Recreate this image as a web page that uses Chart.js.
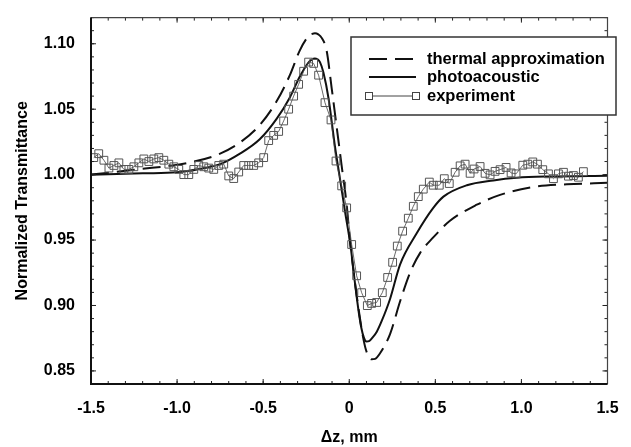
<!DOCTYPE html>
<html>
<head>
<meta charset="utf-8">
<script src="https://cdn.jsdelivr.net/npm/chart.js@4.4.1/dist/chart.umd.min.js"></script>
<style>
  html, body { margin: 0; padding: 0; background: #ffffff; }
  #wrap { width: 631px; height: 447px; }
</style>
</head>
<body>
<div id="wrap"><canvas id="c" width="631" height="447"></canvas></div>
<script>
// ---------- DATA ----------
const seriesNames = ['thermal approximation', 'photoacoustic', 'experiment'];

const xThermal = [-1.5, -1.228, -0.938, -0.75, -0.635, -0.519, -0.422, -0.345, -0.287, -0.238, -0.215, -0.199, -0.18, -0.16, -0.131, -0.102, -0.073, -0.044, -0.015, 0.004, 0.033, 0.062, 0.08, 0.096, 0.113, 0.13, 0.15, 0.178, 0.237, 0.295, 0.353, 0.411, 0.488, 0.585, 0.741, 0.876, 1.07, 1.264, 1.5];
const yThermal = [1.000, 1.004, 1.009, 1.016, 1.0245, 1.038, 1.056, 1.076, 1.095, 1.1056, 1.1075, 1.108, 1.1072, 1.1045, 1.0945, 1.066, 1.0364, 1.0067, 0.977, 0.9498, 0.9177, 0.8905, 0.876, 0.8665, 0.861, 0.8589, 0.8592, 0.8633, 0.8781, 0.903, 0.925, 0.94, 0.952, 0.9647, 0.977, 0.9845, 0.9906, 0.9926, 0.9937];

const xPhoto = [-1.5, -1.2, -1.0, -0.87, -0.75, -0.635, -0.52, -0.42, -0.345, -0.287, -0.238, -0.218, -0.2, -0.185, -0.17, -0.15, -0.12, -0.083, -0.054, -0.025, 0.008, 0.037, 0.055, 0.07, 0.085, 0.1, 0.115, 0.135, 0.16, 0.188, 0.237, 0.295, 0.39, 0.488, 0.547, 0.683, 0.837, 0.973, 1.167, 1.5];
const yPhoto = [1.000, 1.001, 1.0018, 1.0043, 1.008, 1.016, 1.027, 1.043, 1.059, 1.075, 1.0855, 1.0879, 1.0888, 1.0882, 1.086, 1.078, 1.058, 1.0216, 0.997, 0.9721, 0.945, 0.913, 0.895, 0.883, 0.8755, 0.8725, 0.8728, 0.8755, 0.880, 0.888, 0.905, 0.9313, 0.9548, 0.9746, 0.9832, 0.9919, 0.9956, 0.9976, 0.9986, 0.9992];

const xExp = [-1.484, -1.455, -1.425, -1.396, -1.367, -1.338, -1.309, -1.28, -1.251, -1.222, -1.193, -1.164, -1.135, -1.106, -1.077, -1.048, -1.019, -0.99, -0.961, -0.932, -0.903, -0.874, -0.845, -0.816, -0.787, -0.758, -0.729, -0.7, -0.671, -0.642, -0.613, -0.584, -0.555, -0.526, -0.497, -0.468, -0.439, -0.41, -0.381, -0.352, -0.323, -0.294, -0.265, -0.236, -0.207, -0.178, -0.141, -0.106, -0.077, -0.044, -0.015, 0.014, 0.043, 0.072, 0.105, 0.13, 0.159, 0.192, 0.223, 0.252, 0.279, 0.31, 0.343, 0.372, 0.401, 0.43, 0.465, 0.488, 0.523, 0.552, 0.581, 0.615, 0.644, 0.673, 0.702, 0.725, 0.76, 0.789, 0.818, 0.847, 0.876, 0.911, 0.94, 0.969, 1.008, 1.037, 1.066, 1.093, 1.124, 1.157, 1.186, 1.215, 1.244, 1.273, 1.302, 1.331, 1.36];
const yExp = [1.013, 1.016, 1.011, 1.005, 1.007, 1.009, 1.004, 1.004, 1.006, 1.009, 1.012, 1.010, 1.012, 1.013, 1.011, 1.008, 1.006, 1.004, 1.000, 1.000, 1.004, 1.007, 1.006, 1.005, 1.004, 1.007, 1.008, 0.999, 0.997, 1.002, 1.007, 1.007, 1.007, 1.009, 1.013, 1.026, 1.030, 1.033, 1.041, 1.050, 1.060, 1.069, 1.079, 1.086, 1.085, 1.076, 1.055, 1.0418, 1.0104, 0.9914, 0.9746, 0.9466, 0.9227, 0.9098, 0.8999, 0.9016, 0.9023, 0.9098, 0.9214, 0.933, 0.9454, 0.9568, 0.9667, 0.9758, 0.9832, 0.9889, 0.9943, 0.9919, 0.9919, 0.9969, 0.9932, 1.0018, 1.0067, 1.008, 1.001, 1.0043, 1.0062, 1.001, 0.9998, 1.0025, 1.0038, 1.0055, 1.0013, 1.0006, 1.0072, 1.008, 1.0097, 1.008, 1.0038, 1.0006, 0.9969, 1.0006, 1.0018, 0.9988, 0.9993, 0.998, 1.0023];

const xTickValues = [-1.5, -1.0, -0.5, 0, 0.5, 1.0, 1.5];
const xTickLabels = ['-1.5', '-1.0', '-0.5', '0', '0.5', '1.0', '1.5'];
const yTickValues = [0.85, 0.90, 0.95, 1.00, 1.05, 1.10];
const yTickLabels = ['0.85', '0.90', '0.95', '1.00', '1.05', '1.10'];
const xRange = [-1.5, 1.5];
const yRange = [0.84, 1.12];
const xMinorStep = 0.1;
const yMinorStep = 0.01;
const xTitle = '\u0394z, mm';
const yTitle = 'Normalized Transmittance';

// ---------- CHART ----------
const FONT = "'Liberation Sans', Arial, Helvetica, sans-serif";
const toPts = (xs, ys) => xs.map((x, i) => ({x: x, y: ys[i]}));

const frameAndTicks = {
  id: 'frameAndTicks',
  afterDatasetsDraw(chart) {
    const {ctx, chartArea: a, scales: {x, y}} = chart;
    ctx.save();
    ctx.strokeStyle = '#222';
    const drawX = (v, len) => {
      const px = x.getPixelForValue(v);
      ctx.beginPath();
      ctx.moveTo(px, a.bottom); ctx.lineTo(px, a.bottom - len);
      ctx.moveTo(px, a.top); ctx.lineTo(px, a.top + len);
      ctx.stroke();
    };
    const drawY = (v, len) => {
      const py = y.getPixelForValue(v);
      ctx.beginPath();
      ctx.moveTo(a.left, py); ctx.lineTo(a.left + len, py);
      ctx.moveTo(a.right, py); ctx.lineTo(a.right - len, py);
      ctx.stroke();
    };
    ctx.lineWidth = 1;
    const nx = Math.round((xRange[1] - xRange[0]) / xMinorStep);
    for (let i = 0; i <= nx; i++) drawX(xRange[0] + i * xMinorStep, 3);
    const ny = Math.round((yRange[1] - yRange[0]) / yMinorStep);
    for (let i = 0; i <= ny; i++) drawY(yRange[0] + i * yMinorStep, 3);
    xTickValues.forEach(v => drawX(v, 5));
    yTickValues.forEach(v => drawY(v, 5));
    ctx.lineWidth = 1.2;
    ctx.strokeStyle = '#444';
    ctx.beginPath();
    ctx.moveTo(a.left, a.top); ctx.lineTo(a.right, a.top); ctx.lineTo(a.right, a.bottom);
    ctx.stroke();
    ctx.lineWidth = 2;
    ctx.strokeStyle = '#111';
    ctx.beginPath();
    ctx.moveTo(a.left, a.top); ctx.lineTo(a.left, a.bottom); ctx.lineTo(a.right, a.bottom);
    ctx.stroke();
    ctx.restore();
  }
};

const boxLegend = {
  id: 'boxLegend',
  afterDraw(chart) {
    const {ctx} = chart;
    const bx = 351, by = 37, bw = 265, bh = 78;
    ctx.save();
    ctx.fillStyle = '#fff';
    ctx.fillRect(bx, by, bw, bh);
    ctx.lineWidth = 1.5;
    ctx.strokeStyle = '#333';
    ctx.strokeRect(bx, by, bw, bh);
    const rows = [59, 77, 96];
    const x0 = 369, x1 = 416, tx = 427;
    chart.data.datasets.forEach((ds, i) => {
      const yy = rows[i];
      ctx.save();
      ctx.strokeStyle = ds.borderColor;
      ctx.lineWidth = i === 2 ? 1 : ds.borderWidth;
      ctx.setLineDash(ds.borderDash || []);
      ctx.beginPath(); ctx.moveTo(x0, yy); ctx.lineTo(x1, yy); ctx.stroke();
      ctx.restore();
      if (i === 2) {
        ctx.save();
        ctx.strokeStyle = '#444';
        ctx.lineWidth = 1;
        ctx.fillStyle = '#fff';
        [x0, x1].forEach(px => { ctx.fillRect(px - 3.5, yy - 3.5, 7, 7); ctx.strokeRect(px - 3.5, yy - 3.5, 7, 7); });
        ctx.restore();
      }
      ctx.fillStyle = '#000';
      ctx.font = 'bold 16.5px ' + FONT;
      ctx.textBaseline = 'middle';
      ctx.textAlign = 'left';
      ctx.fillText(ds.label, tx, yy);
    });
    ctx.restore();
  }
};

new Chart(document.getElementById('c'), {
  type: 'scatter',
  data: {
    datasets: [
      {
        label: seriesNames[0],
        data: toPts(xThermal, yThermal),
        showLine: true,
        borderColor: '#111',
        borderWidth: 2,
        borderDash: [18, 8],
        pointRadius: 0,
        cubicInterpolationMode: 'monotone',
        order: 2
      },
      {
        label: seriesNames[1],
        data: toPts(xPhoto, yPhoto),
        showLine: true,
        borderColor: '#111',
        borderWidth: 2,
        pointRadius: 0,
        cubicInterpolationMode: 'monotone',
        order: 1
      },
      {
        label: seriesNames[2],
        data: toPts(xExp, yExp),
        showLine: true,
        borderColor: '#444',
        borderWidth: 0.8,
        pointStyle: 'rect',
        pointRadius: 5.5,
        pointBorderWidth: 1,
        pointBorderColor: '#555',
        pointBackgroundColor: 'rgba(0,0,0,0)',
        tension: 0,
        order: 0
      }
    ]
  },
  options: {
    responsive: false,
    animation: false,
    devicePixelRatio: 1,
    layout: { padding: { left: 0, right: 23.5, top: 7, bottom: 0 } },
    plugins: { legend: { display: false }, tooltip: { enabled: false } },
    scales: {
      x: {
        type: 'linear',
        min: xRange[0], max: xRange[1],
        grid: { display: false },
        border: { display: false },
        afterBuildTicks: s => { s.ticks = xTickValues.map(v => ({value: v})); },
        afterFit: s => { s.height = 63; },
        ticks: {
          padding: 7,
          color: '#000',
          maxRotation: 0,
          font: { family: FONT, size: 16, weight: 'bold' },
          callback: (v, i) => xTickLabels[i]
        },
        title: {
          display: true, text: xTitle, color: '#000',
          font: { family: FONT, size: 16, weight: 'bold' },
          padding: { top: 0, bottom: 0 }
        }
      },
      y: {
        type: 'linear',
        min: yRange[0], max: yRange[1],
        grid: { display: false },
        border: { display: false },
        afterBuildTicks: s => { s.ticks = yTickValues.map(v => ({value: v})); },
        afterFit: s => { s.width = 91; },
        ticks: {
          padding: 8,
          color: '#000',
          font: { family: FONT, size: 16, weight: 'bold' },
          callback: (v, i) => yTickLabels[i]
        },
        title: {
          display: true, text: yTitle, color: '#000',
          font: { family: FONT, size: 16, weight: 'bold' },
          padding: { top: 13, bottom: 0 }
        }
      }
    }
  },
  plugins: [frameAndTicks, boxLegend]
});
</script>
</body>
</html>
